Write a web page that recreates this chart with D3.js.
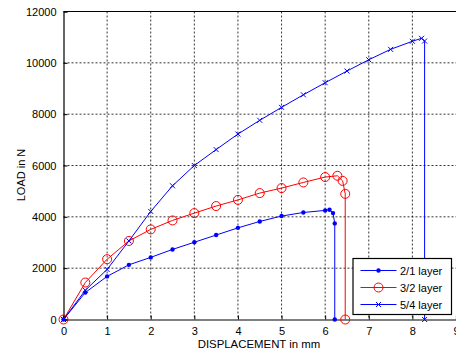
<!DOCTYPE html>
<html><head><meta charset="utf-8">
<script src="https://cdn.jsdelivr.net/npm/d3@7"></script>
<style>body{margin:0;background:#fff;}svg{display:block;font-family:"Liberation Sans",Arial,sans-serif;}</style>
</head><body>
<svg id="c" width="456" height="354"></svg>
<script>
const xTicks = [0,1,2,3,4,5,6,7,8,9];
const yTicks = [0,2000,4000,6000,8000,10000,12000];
const seriesNames = ["2/1 layer","3/2 layer","5/4 layer"];
const s21x = [0,0.5,1,1.5,2,2.5,3,3.5,4,4.5,5,5.5,6,6.1,6.18,6.22,6.22];
const s21y = [0,1050,1680,2130,2420,2730,3010,3290,3570,3820,4030,4170,4250,4275,4145,3745,0];
const s32x = [0,0.5,1,1.5,2,2.5,3,3.5,4,4.5,5,5.5,6,6.28,6.4,6.46,6.46];
const s32y = [0,1440,2350,3060,3510,3860,4145,4420,4660,4925,5120,5340,5550,5600,5400,4895,0];
const s54x = [0,0.5,1,1.5,2,2.5,3,3.5,4,4.5,5,5.5,6,6.5,7,7.5,8,8.21,8.28,8.28];
const s54y = [0,1140,1950,3060,4210,5210,6000,6620,7225,7760,8265,8755,9225,9680,10120,10525,10840,10955,10850,0];

const svg = d3.select("#c");
const L=63.5, R=456, T=11.5, B=319.5;
const x = d3.scaleLinear().domain([0,9]).range([L,R]);
const y = d3.scaleLinear().domain([0,12000]).range([B,T]);

// grid
const g = svg.append("g");
g.selectAll(".gx").data(xTicks.slice(1,-1)).enter().append("line")
  .attr("x1",d=>x(d)).attr("x2",d=>x(d)).attr("y1",T).attr("y2",B)
  .attr("stroke","#000").attr("stroke-width",0.8).attr("stroke-dasharray","2,2");
g.selectAll(".gy").data(yTicks.slice(1,-1)).enter().append("line")
  .attr("y1",d=>y(d)).attr("y2",d=>y(d)).attr("x1",L).attr("x2",R)
  .attr("stroke","#000").attr("stroke-width",0.8).attr("stroke-dasharray","2,2");

// axes
const xa = svg.append("g").attr("transform",`translate(0,${B})`)
  .call(d3.axisBottom(x).tickValues(xTicks).tickSize(-4).tickPadding(8));
const ya = svg.append("g").attr("transform",`translate(${L},0)`)
  .call(d3.axisLeft(y).tickValues(yTicks).tickSize(-4).tickPadding(7).tickFormat(d3.format("d")));
[xa,ya].forEach(a=>{
  a.select(".domain").attr("stroke","#000").attr("stroke-width",1.2);
  a.selectAll("text").attr("font-size",11).attr("fill","#000").attr("font-family","Liberation Sans, Arial, sans-serif");
});
// top frame
svg.append("line").attr("x1",L).attr("x2",R).attr("y1",T).attr("y2",T).attr("stroke","#000").attr("stroke-width",1.2);

svg.append("text").attr("x",259).attr("y",348).attr("text-anchor","middle").attr("font-size",11.4).text("DISPLACEMENT in mm");
svg.append("text").attr("transform","translate(25,175) rotate(-90)").attr("text-anchor","middle").attr("font-size",11).text("LOAD in N");

const line = d3.line().x(d=>x(d[0])).y(d=>y(d[1]));
const data = [
  {pts:d3.zip(s21x,s21y), color:"#0000ff", marker:"dot"},
  {pts:d3.zip(s32x,s32y), color:"#ff0000", marker:"circle"},
  {pts:d3.zip(s54x,s54y), color:"#0000ff", marker:"x"}
];
function drawMarker(sel, type, color){
  sel.each(function(){
    const s = d3.select(this);
    if(type==="dot") s.append("circle").attr("r",2.2).attr("fill",color);
    else if(type==="circle") s.append("circle").attr("r",4.5).attr("fill","none").attr("stroke",color).attr("stroke-width",1);
    else s.append("path").attr("d","M-2.5,-2.5L2.5,2.5M-2.5,2.5L2.5,-2.5").attr("stroke",color).attr("stroke-width",1);
  });
}
data.forEach(s=>{
  svg.append("path").datum(s.pts).attr("d",line).attr("fill","none").attr("stroke",s.color).attr("stroke-width",1);
  const m = svg.append("g").selectAll("g").data(s.pts).enter().append("g")
    .attr("transform",d=>`translate(${x(d[0])},${y(d[1])})`);
  drawMarker(m, s.marker, s.color);
});

// legend
const lg = svg.append("g");
lg.append("rect").attr("x",353).attr("y",258.5).attr("width",98.5).attr("height",56).attr("fill","#fff").attr("stroke","#000").attr("stroke-width",1.2);
data.forEach((s,i)=>{
  const yy = 270.5 + i*17;
  lg.append("line").attr("x1",360.5).attr("x2",396.5).attr("y1",yy).attr("y2",yy).attr("stroke",s.color).attr("stroke-width",1);
  const m = lg.append("g").attr("transform",`translate(378.5,${yy})`);
  drawMarker(m, s.marker, s.color);
  lg.append("text").attr("x",400).attr("y",yy+4).attr("font-size",11).text(seriesNames[i]);
});
</script>
</body></html>
